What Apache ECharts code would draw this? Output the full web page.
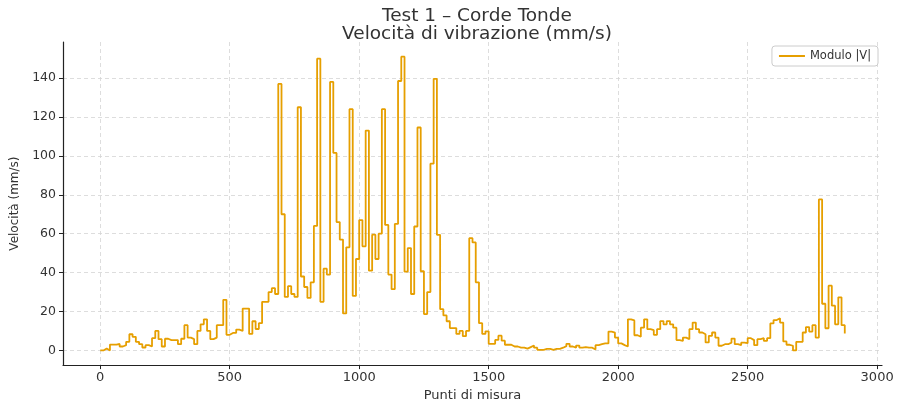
<!DOCTYPE html>
<html>
<head>
<meta charset="utf-8">
<script src="https://cdn.jsdelivr.net/npm/echarts@6/dist/echarts.min.js"></script>
<style>
html, body { margin: 0; padding: 0; background: #fff; }
#chart { width: 898px; height: 407px; }
</style>
</head>
<body>
<div id="chart"></div>
<script>
// passo tra i punti di misura
const PASSO = 12.5

// modulo |V| (mm/s)
const modulo = [
  0, 1, 0, 3, 3, 3.3, 2, 2.7, 4.4, 8.3,
  7, 4.4, 3.2, 1.5, 2.7, 2, 6.3, 10, 5.8, 2,
  6, 5.3, 5.3, 5.3, 3.2, 6, 13, 6.6, 5.8, 3.2,
  10, 13.4, 16, 10, 5.8, 6.6, 13, 13, 26, 8,
  9, 9, 10.7, 10, 21.5, 21.5, 8.5, 15, 11, 14,
  25, 25, 30, 32, 29, 137, 70, 27.5, 33, 29,
  27.5, 125, 38, 32.6, 27, 35, 64, 150, 25, 42,
  39, 138, 101.5, 66, 57, 19, 53, 124, 28, 47,
  67, 53.5, 113, 41, 59.5, 47, 60, 124, 64.5, 39,
  31.5, 65, 138.5, 151, 40.5, 52.6, 29, 63.7, 114.6, 40.7,
  18.7, 30, 96, 139.6, 59.4, 21.2, 18, 15, 11.5, 11.5,
  8.5, 10, 7.3, 10, 57.7, 55.5, 35, 14, 8.5, 9.8,
  3.4, 3.4, 5.4, 7.6, 5, 2.9, 2.9, 2, 2, 1.4,
  1.4, 0.9, 1.7, 2.5, 1.4, 0.3, 0.3, 0.8, 0.8, 0.3,
  0.8, 0.8, 1.4, 2.2, 3.4, 2, 1.4, 2.5, 1.4, 1.7,
  1.4, 1.4, 0.5, 2.7, 3.2, 3.6, 3.6, 9.7, 9.2, 6.6,
  3.6, 2.7, 2, 16, 15.4, 7.8, 7, 11.7, 16, 10.9,
  10.4, 8, 10.9, 15.1, 13.4, 15.1, 13.4, 11.7, 5.3, 4.9,
  6.6, 5.8, 10.9, 14.3, 10.9, 9.2, 8.3, 4.1, 7.5, 9.2,
  6.6, 2.4, 3.2, 3.2, 4, 6.1, 3.2, 2.7, 4, 3.7,
  6.3, 5.3, 2.7, 5.8, 6.3, 4.9, 6.3, 13.9, 15.6, 16.5,
  14.3, 4.6, 2.9, 2.4, 0, 4.4, 4.4, 9.2, 12, 9.7,
  13, 6.6, 77.6, 24, 11.4, 33.3, 23, 13.4, 27.3, 13,
  8.7
]

const chart = echarts.init(document.getElementById('chart'))

const punti = modulo.map((v, i) => [i * PASSO, v])

const testo = '#333'
const griglia = {
  show: true,
  showMinLine: false,
  showMaxLine: false,
  lineStyle: { color: '#d4d4d4', type: [4, 3], width: 0.8 }
}

const option = {
  animation: false,
  backgroundColor: '#fff',
  textStyle: { fontFamily: 'DejaVu Sans' },
  title: {
    text: 'Test 1 – Corde Tonde\nVelocità di vibrazione (mm/s)',
    left: 472,
    top: 2,
    textAlign: 'center',
    textStyle: {
      fontFamily: 'DejaVu Sans',
      fontSize: 18.5,
      fontWeight: 'normal',
      color: testo,
      lineHeight: 18
    }
  },
  legend: {
    right: 20,
    top: 46,
    padding: [4, 7],
    itemWidth: 26,
    itemHeight: 2,
    itemGap: 6,
    icon: 'rect',
    backgroundColor: '#fff',
    borderColor: '#ccc',
    borderWidth: 1,
    borderRadius: 3,
    textStyle: { fontFamily: 'DejaVu Sans', fontSize: 11.5, color: testo },
    data: ['Modulo |V|']
  },
  grid: { left: 63, right: 16, top: 42, bottom: 39 },
  xAxis: {
    type: 'value',
    min: -143.75,
    max: 3018.75,
    minInterval: 500,
    maxInterval: 500,
    name: 'Punti di misura',
    nameLocation: 'middle',
    nameGap: 22,
    nameTextStyle: { fontFamily: 'DejaVu Sans', fontSize: 13, color: testo },
    axisLine: { onZero: false, lineStyle: { color: '#222', width: 1.2 } },
    axisTick: { show: true, length: 4, lineStyle: { color: '#222' } },
    axisLabel: {
      showMinLabel: false,
      showMaxLabel: false,
      margin: 6,
      fontSize: 13,
      color: testo,
      formatter: v => String(v)
    },
    splitLine: griglia
  },
  yAxis: {
    type: 'value',
    min: -7.55,
    max: 158.55,
    minInterval: 20,
    maxInterval: 20,
    name: 'Velocità (mm/s)',
    nameLocation: 'middle',
    nameGap: 37,
    nameTextStyle: { fontFamily: 'DejaVu Sans', fontSize: 12, color: testo },
    axisLine: { onZero: false, lineStyle: { color: '#222', width: 1.2 } },
    axisTick: { show: true, length: 4, lineStyle: { color: '#222' } },
    axisLabel: {
      showMinLabel: false,
      showMaxLabel: false,
      margin: 7,
      fontSize: 12.5,
      color: testo,
      formatter: v => String(v)
    },
    splitLine: griglia
  },
  series: [
    {
      name: 'Modulo |V|',
      type: 'line',
      step: 'end',
      symbol: 'none',
      data: punti,
      lineStyle: { color: '#E69F00', width: 1.8 },
      itemStyle: { color: '#E69F00' }
    }
  ]
}

chart.setOption(option)
</script>
</body>
</html>
